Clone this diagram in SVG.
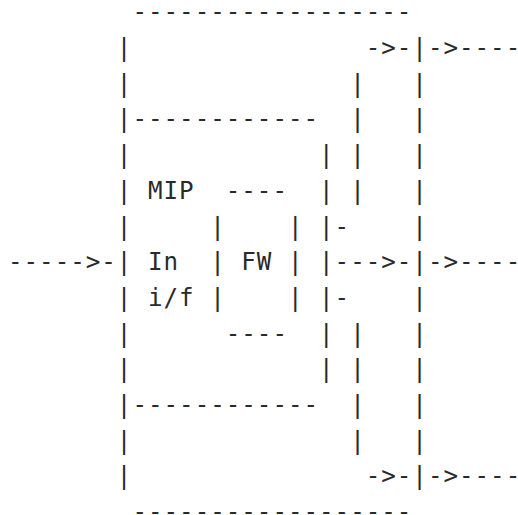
<svg xmlns="http://www.w3.org/2000/svg" width="518" height="515" viewBox="0 0 518 515">
<style>
text{font-family:"DejaVu Sans Mono","Liberation Mono",monospace;font-size:24.2px;letter-spacing:0.99px;fill:#2a2a2a;white-space:pre}
</style>
<rect width="518" height="515" fill="#fff"/>
<g id="diagram" xml:space="preserve">
<text x="8" y="20.3">        ------------------</text>
<text x="8" y="56">       |               -&gt;-|-&gt;----</text>
<text x="8" y="91.7">       |              |   |</text>
<text x="8" y="127.4">       |------------  |   |</text>
<text x="8" y="163.1">       |            | |   |</text>
<text x="8" y="198.8">       | MIP  ----  | |   |</text>
<text x="8" y="234.5">       |     |    | |-    |</text>
<text x="8" y="270.2">-----&gt;-| In  | FW | |---&gt;-|-&gt;----</text>
<text x="8" y="305.9">       | i/f |    | |-    |</text>
<text x="8" y="341.6">       |      ----  | |   |</text>
<text x="8" y="377.3">       |            | |   |</text>
<text x="8" y="413">       |------------  |   |</text>
<text x="8" y="448.7">       |              |   |</text>
<text x="8" y="484.4">       |               -&gt;-|-&gt;----</text>
<text x="8" y="520.1">        ------------------</text>
</g>
</svg>
